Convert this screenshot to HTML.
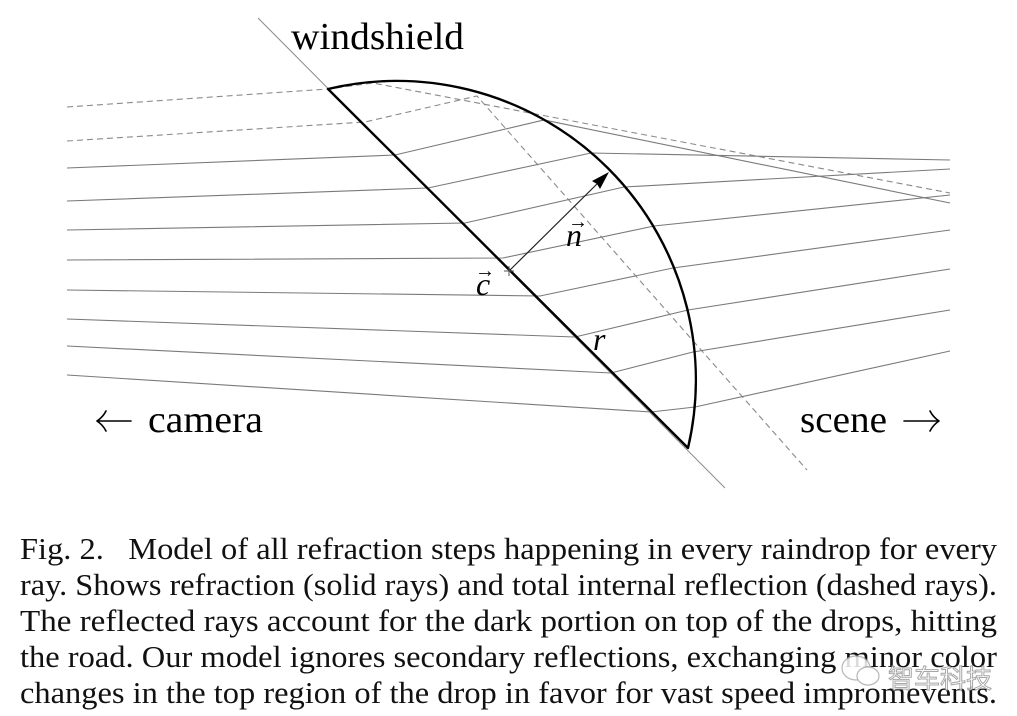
<!DOCTYPE html>
<html><head><meta charset="utf-8"><style>html,body{margin:0;padding:0;background:#fff}svg{display:block}</style></head>
<body>
<svg width="1017" height="716" viewBox="0 0 1017 716" xmlns="http://www.w3.org/2000/svg">
<rect width="1017" height="716" fill="#fff"/>
<line x1="258" y1="18" x2="725" y2="488" stroke="#8a8a8a" stroke-width="1"/>
<g fill="none" stroke="#8a8a8a" stroke-width="1.1" stroke-dasharray="6,4">
<polyline points="67,107 328,89 373,83 950,193"/>
<polyline points="67,141 365,122 477,96 807,470"/>
</g>
<g fill="none" stroke="#7a7a7a" stroke-width="1.1">
<polyline points="67,168 395,155 544,120 950,203"/>
<polyline points="67,201 428,188 591,153 950,160"/>
<polyline points="67,230 465,223 624,187 950,169"/>
<polyline points="67,260 503,258 654,226 950,195"/>
<polyline points="67,290 540,296 673,268 950,230"/>
<polyline points="67,319 575,337 688,310 950,269"/>
<polyline points="67,346 611,373 693,352 950,310"/>
<polyline points="67,375 651,412 695,407 950,351"/>
</g>
<path d="M328,89 A299,299 0 0 1 688,448 Z" fill="none" stroke="#000" stroke-width="2.4" stroke-linejoin="round"/>
<line x1="509" y1="271" x2="603" y2="178" stroke="#222" stroke-width="1.2"/>
<path d="M609,172 L592,181 L597,184 L600,189 Z" fill="#000"/>
<path d="M504,271 H514 M509,266 V276" stroke="#555" stroke-width="1"/>
<!-- label arrows -->
<g fill="none" stroke="#000" stroke-width="1.6" stroke-linecap="round">
<path d="M97,421 H131 M97,421 Q103,417 106,411 M97,421 Q103,425 106,431"/>
<path d="M904,421 H939 M939,421 Q933,417 930,411 M939,421 Q933,425 930,431"/>
</g>
<g font-family="Liberation Serif, serif" fill="#000">
<text x="291" y="49" font-size="38" textLength="173" lengthAdjust="spacingAndGlyphs">windshield</text>
<text x="148" y="432" font-size="38" textLength="115" lengthAdjust="spacingAndGlyphs">camera</text>
<text x="800" y="432" font-size="38" textLength="87" lengthAdjust="spacingAndGlyphs">scene</text>
<text x="566" y="246" font-size="32" font-style="italic">n</text>
<text x="568" y="228" font-size="20">→</text>
<text x="476" y="295" font-size="32" font-style="italic">c</text>
<text x="475" y="277" font-size="20">→</text>
<text x="593" y="350" font-size="32" font-style="italic">r</text>
</g>
<g font-family="Liberation Serif, serif" font-size="31" fill="#111">
<text x="20" y="559" textLength="977" lengthAdjust="spacingAndGlyphs">Fig. 2.&#160;&#160;&#160;Model of all refraction steps happening in every raindrop for every</text>
<text x="20" y="595" textLength="977" lengthAdjust="spacingAndGlyphs">ray. Shows refraction (solid rays) and total internal reflection (dashed rays).</text>
<text x="20" y="631" textLength="977" lengthAdjust="spacingAndGlyphs">The reflected rays account for the dark portion on top of the drops, hitting</text>
<text x="20" y="667" textLength="977" lengthAdjust="spacingAndGlyphs">the road. Our model ignores secondary reflections, exchanging minor color</text>
<text x="20" y="703" textLength="977" lengthAdjust="spacingAndGlyphs">changes in the top region of the drop in favor for vast speed impromevents.</text>
</g>
<g opacity="0.85">
<ellipse cx="856" cy="668" rx="14" ry="12" fill="#fff" stroke="#aaa" stroke-width="1.2"/>
<ellipse cx="868" cy="676" rx="11" ry="9" fill="#fff" stroke="#aaa" stroke-width="1.2"/>
<text x="888" y="688" font-family="Noto Sans CJK SC, sans-serif" font-size="26" fill="#fff" stroke="#999" stroke-width="1">智车科技</text>
</g>
</svg>
</body></html>
